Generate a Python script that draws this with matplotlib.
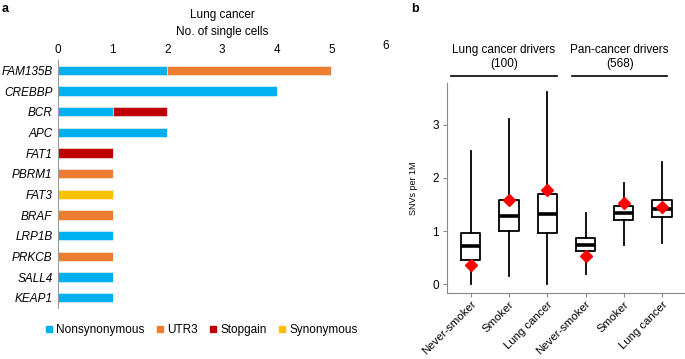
import matplotlib
matplotlib.use("Agg")
import matplotlib.pyplot as plt
import matplotlib.transforms as mtransforms
from matplotlib.lines import Line2D
import numpy as np

plt.rcParams['font.family'] = ['Liberation Sans', 'DejaVu Sans']

# ---- Panel a data ----
genes = ["FAM135B", "CREBBP", "BCR", "APC", "FAT1", "PBRM1", "FAT3", "BRAF",
         "LRP1B", "PRKCB", "SALL4", "KEAP1"]
nonsyn = [2, 4, 1, 2, 0, 0, 0, 0, 1, 0, 1, 1]
utr3 = [3, 0, 0, 0, 0, 1, 0, 1, 0, 1, 0, 0]
stopgain = [0, 0, 1, 0, 1, 0, 0, 0, 0, 0, 0, 0]
synonymous = [0, 0, 0, 0, 0, 0, 1, 0, 0, 0, 0, 0]
mut_types = ["Nonsynonymous", "UTR3", "Stopgain", "Synonymous"]
mut_colors = ["#00B0F0", "#ED7D31", "#C00000", "#FFC000"]
xticks_a = [0, 1, 2, 3, 4, 5, 6]

# ---- Panel b data ----
box_labels = ["Never-smoker", "Smoker", "Lung cancer", "Never-smoker", "Smoker", "Lung cancer"]
whislo = [0.00, 0.15, 0.00, 0.19, 0.745, 0.78]
q1 = [0.45, 1.00, 0.975, 0.63, 1.21, 1.27]
med = [0.73, 1.28, 1.33, 0.745, 1.34, 1.415]
q3 = [0.975, 1.58, 1.69, 0.87, 1.48, 1.58]
whishi = [2.51, 3.11, 3.61, 1.34, 1.91, 2.30]
diamond = [0.36, 1.58, 1.78, 0.525, 1.53, 1.45]
groups = ["Lung cancer drivers", "Pan-cancer drivers"]
group_counts = ["(100)", "(568)"]
yticks_b = [0, 1, 2, 3]

W, H = 685, 359
FS = 8.5
fig = plt.figure(figsize=(W / 100, H / 100), dpi=100)

def fx(px):
    return px / W

def fy(py):
    return 1 - py / H

# ---------------- Panel a ----------------
axa = fig.add_axes([fx(58), fy(308), fx(386) - fx(58), fy(60) - fy(308)])
y = np.arange(len(genes))
left = np.zeros(len(genes))
for vals, col, lab in zip([nonsyn, utr3, stopgain, synonymous], mut_colors, mut_types):
    vals = np.array(vals, dtype=float)
    axa.barh(y, vals, left=left, height=0.45, color=col, edgecolor="#f4f4f4",
             linewidth=0.4, label=lab)
    left += vals
axa.set_ylim(len(genes) - 0.5, -0.5)
axa.set_xlim(0, 6)
axa.set_yticks(y)
axa.set_yticklabels(genes, fontstyle="italic", fontsize=FS)
axa.xaxis.tick_top()
axa.set_xticks(xticks_a)
axa.set_xticklabels([str(t) for t in xticks_a], fontsize=FS)
axa.tick_params(axis="both", length=0, pad=4)
axa.tick_params(axis="x", pad=3)
for s in ["top", "right", "bottom"]:
    axa.spines[s].set_visible(False)
axa.spines["left"].set_color("#999999")
axa.spines["left"].set_linewidth(0.8)
# the "6" label sits slightly higher
lab6 = axa.get_xticklabels()[-1]
lab6.set_transform(lab6.get_transform() + mtransforms.ScaledTranslation(0, 3 / 72, fig.dpi_scale_trans))
fig.text(fx(222), fy(15), "Lung cancer", ha="center", va="center", fontsize=FS)
fig.text(fx(222), fy(32), "No. of single cells", ha="center", va="center", fontsize=FS)

handles = [Line2D([0], [0], marker="s", linestyle="none", markersize=4,
                  markerfacecolor=c, markeredgecolor=c) for c in mut_colors]
fig.legend(handles, mut_types, loc="center", bbox_to_anchor=(fx(201), fy(330)),
           ncol=4, frameon=False, fontsize=FS, handletextpad=0.2, columnspacing=0.9,
           handlelength=0.8)

fig.text(fx(2), fy(9), "a", fontweight="bold", fontsize=9, ha="left", va="center")
fig.text(fx(411), fy(9), "b", fontweight="bold", fontsize=9, ha="left", va="center")

# ---------------- Panel b ----------------
axb = fig.add_axes([fx(447), fy(293), fx(685) - fx(447), fy(83) - fy(293)])
stats = []
for i in range(len(box_labels)):
    stats.append(dict(whislo=whislo[i], q1=q1[i], med=med[i], q3=q3[i],
                      whishi=whishi[i], fliers=[], label=box_labels[i]))
pos = np.arange(1, len(box_labels) + 1)
axb.bxp(stats, positions=pos, widths=0.5, showcaps=False, showfliers=False,
        boxprops=dict(color="black", linewidth=1.3),
        whiskerprops=dict(color="black", linewidth=1.3),
        medianprops=dict(color="black", linewidth=2.6))
axb.plot(pos, diamond, linestyle="none", marker="D", markersize=6.5,
         color="#FF0000", markeredgecolor="#FF0000", zorder=5)
axb.set_xlim(0.38, 6.6)
axb.set_ylim(-0.16, 3.78)
axb.set_yticks(yticks_b)
axb.set_yticklabels([str(t) for t in yticks_b], fontsize=FS)
axb.set_xticks(pos)
axb.set_xticklabels(box_labels, rotation=45, ha="right", rotation_mode="anchor", fontsize=8.2)
axb.tick_params(axis="y", length=3, color="#888888", pad=3)
axb.tick_params(axis="x", length=3, color="#888888", pad=1.5)
for s in ["top", "right"]:
    axb.spines[s].set_visible(False)
for s in ["left", "bottom"]:
    axb.spines[s].set_color("#888888")
    axb.spines[s].set_linewidth(0.8)
axb.set_ylabel("SNVs per 1M", fontsize=6.5, labelpad=10)

# group annotations
trans = mtransforms.blended_transform_factory(axb.transData, fig.transFigure)
group_spans = [(0.486, 3.245), (3.645, 6.14)]
for (a, b), g, n in zip(group_spans, groups, group_counts):
    axb.add_line(Line2D([a, b], [fy(76), fy(76)], transform=trans, color="black",
                        linewidth=1.2, clip_on=False))
    cx = (a + b) / 2
    fig.text(cx, fy(50), g, transform=trans, ha="center", va="center", fontsize=FS)
    fig.text(cx, fy(64), n, transform=trans, ha="center", va="center", fontsize=FS)

fig.savefig("out.png", dpi=100)
